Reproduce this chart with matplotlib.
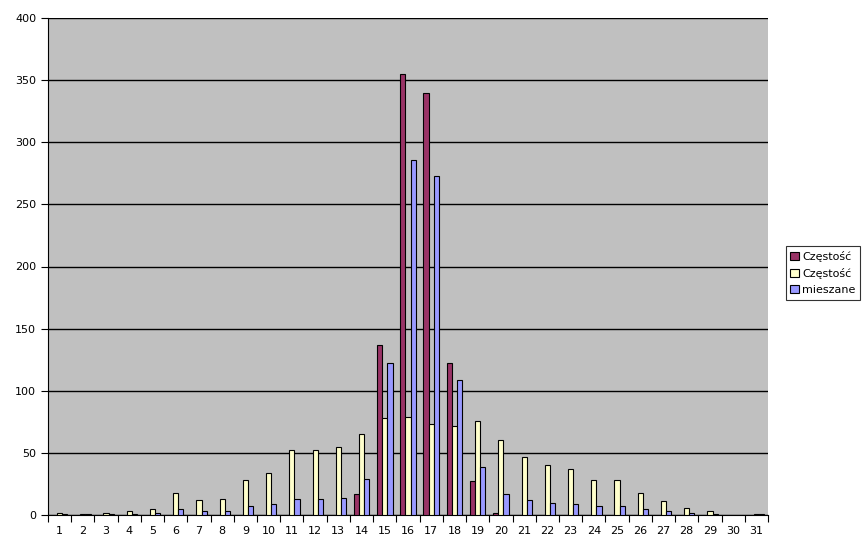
import numpy as np
import matplotlib
matplotlib.use("Agg")
import matplotlib.pyplot as plt

categories = list(range(1, 32))
czestosc_1 = [0, 0, 0, 0, 0, 0, 0, 0, 0, 0, 0, 0, 0, 17, 137, 355, 340, 122, 27, 2,
              0, 0, 0, 0, 0, 0, 0, 0, 0, 0, 0]
czestosc_2 = [2, 1, 2, 3, 5, 18, 12, 13, 28, 34, 52, 52, 55, 65, 78, 79, 73, 72, 76, 60,
              47, 40, 37, 28, 28, 18, 11, 6, 3, 0, 1]
mieszane = [0.5, 0.5, 0.5, 0.5, 1.5, 5, 3, 3, 7, 9, 13, 13, 14, 29, 122, 286, 273, 109, 39, 17,
            12, 10, 9, 7, 7, 5, 3, 1.5, 0.5, 0, 0.5]
labels = ["Częstość", "Częstość", "mieszane"]
colors = ["#993366", "#FFFFCC", "#9999FF"]

plt.rcParams['font.family'] = ['DejaVu Sans']

fig = plt.figure(figsize=(8.67, 5.48), dpi=100)
ax = fig.add_axes([48 / 867, 1 - 515 / 548, 720 / 867, 497 / 548])
ax.set_facecolor("#C0C0C0")

x = np.array(categories)
w = 0.222
for i, (vals, lab, col) in enumerate(zip([czestosc_1, czestosc_2, mieszane], labels, colors)):
    vals = np.array(vals, dtype=float)
    # zero values are not drawn in the original
    vals[vals == 0] = np.nan
    ax.bar(x + (i - 1) * w, vals, width=w, color=col, edgecolor="black",
           linewidth=0.8, label=lab, zorder=3)

ax.set_xlim(0.5, 31.5)
ax.set_ylim(0, 400)
ax.set_yticks(np.arange(0, 401, 50))
ax.yaxis.grid(True, color="black", linewidth=1, zorder=1)
ax.set_axisbelow(True)

ax.set_xticks(x)
ax.set_xticklabels([str(c) for c in categories])
ax.set_xticks(np.arange(0.5, 32, 1), minor=True)
ax.tick_params(axis="x", which="major", length=0, labelsize=8, pad=8)
ax.tick_params(axis="x", which="minor", length=5, width=0.8, direction="out")
ax.tick_params(axis="y", length=5, width=0.8, labelsize=8, direction="out")

for s in ["top", "right"]:
    ax.spines[s].set_visible(False)
ax.spines["left"].set_linewidth(0.8)
ax.spines["bottom"].set_linewidth(0.8)

leg = ax.legend(loc="center left", bbox_to_anchor=(738 / 720, 0.487), fontsize=8,
                frameon=True, fancybox=False, edgecolor="black", borderpad=0.4,
                handlelength=0.75, handleheight=0.75, handletextpad=0.3, labelspacing=0.55,
                borderaxespad=0)
leg.get_frame().set_linewidth(0.8)

fig.savefig("out.png", dpi=100, facecolor="white")
